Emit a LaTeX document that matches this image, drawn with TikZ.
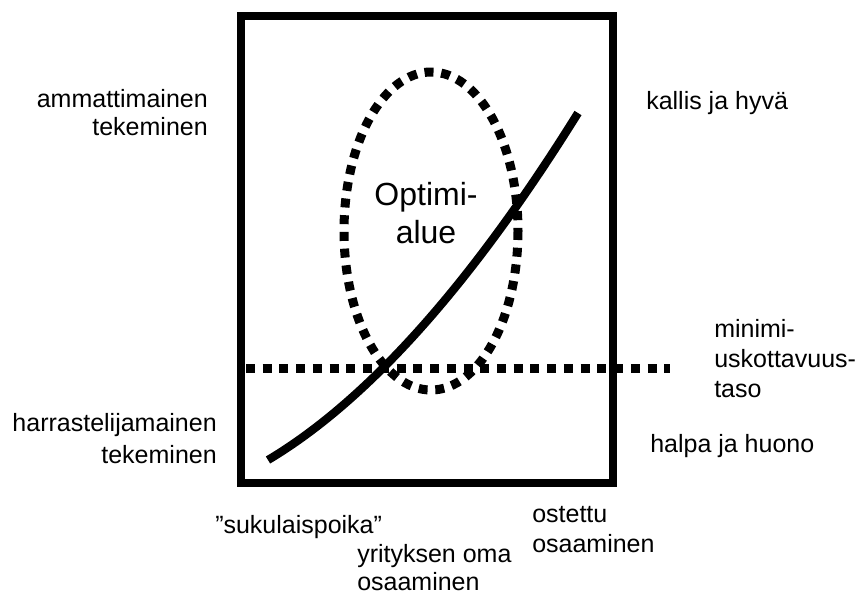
\documentclass[tikz,border=0pt]{standalone}
\usepackage{fontspec}
\setmainfont{Liberation Sans}
\usepackage{tikz}

\tikzset{
  label/.style={inner sep=0pt, font=\fontsize{18.75}{22.5}\selectfont},
  sqdots/.style={line width=6.75pt, dash pattern={on 6.75pt off 5.8pt}},
}

\begin{document}
\begin{tikzpicture}[x=0.75pt,y=0.75pt,yscale=-1,xscale=1]
\useasboundingbox (0,0) rectangle (861,601);

%Shape: Ellipse
\draw [sqdots] (431,231) ellipse [x radius=87, y radius=159];
%Straight Lines
\draw [sqdots] (246,368) -- (670,368);
%Shape: Rectangle
\draw [line width=6.4pt] (241,16) rectangle (613,483);
%Curve Lines
\draw [line width=6.2pt] (268,460) .. controls (367,401) and (471,285) .. (578,113);

% Text Node
\node (optimi) [label, font=\fontsize{24}{28.5}\selectfont, align=center, anchor=base] at (426,243) {Optimi-\\alue};
% Text Node
\node (ammatti) [label, align=right, anchor=base east, font=\fontsize{18.75}{20.5}\selectfont] at (208,135) {ammattimainen\\tekeminen};
% Text Node
\node (harraste) [label, align=right, anchor=base east, font=\fontsize{18.75}{24}\selectfont] at (217,463) {harrastelijamainen\\tekeminen};
% Text Node
\node (kallis) [label, anchor=base west] at (646,109) {kallis ja hyvä};
% Text Node
\node (minimi) [label, align=left, anchor=base west] at (714,397) {minimi-\\uskottavuus-\\taso};
% Text Node
\node (halpa) [label, anchor=base west] at (650,452) {halpa ja huono};
% Text Node
\node (suku) [label, anchor=base west] at (215,533) {”sukulaispoika”};
% Text Node
\node (oma) [label, align=left, anchor=base west, font=\fontsize{18.75}{20.5}\selectfont] at (357,590) {yrityksen oma\\osaaminen};
% Text Node
\node (ostettu) [label, align=left, anchor=base west] at (532,552) {ostettu\\osaaminen};

\end{tikzpicture}
\end{document}
